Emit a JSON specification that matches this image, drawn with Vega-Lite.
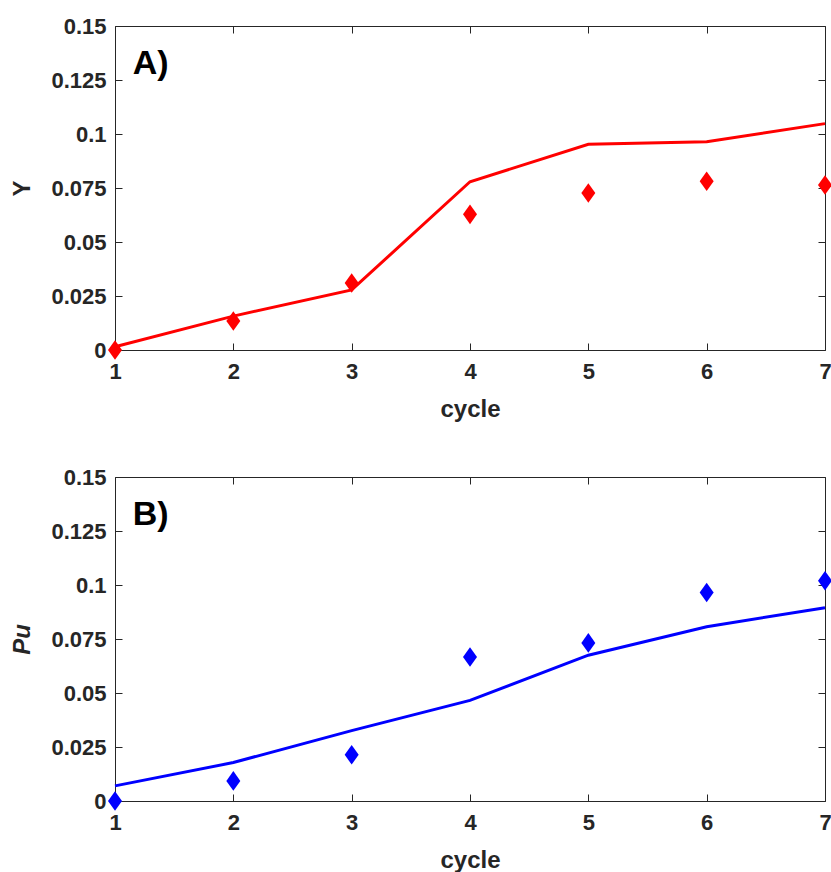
{
  "$schema": "https://vega.github.io/schema/vega-lite/v6.json",
  "padding": {"left": 10, "top": 14, "right": 0, "bottom": 0},
  "background": "white",
  "spacing": 43,
  "config": {
    "view": {"stroke": "#262626", "strokeWidth": 1},
    "font": "Liberation Sans",
    "axis": {
      "labelFont": "Liberation Sans",
      "labelFontSize": 22,
      "labelFontWeight": "bold",
      "labelColor": "#262626",
      "labelFlush": false,
      "labelOverlap": false,
      "titleFont": "Liberation Sans",
      "titleFontSize": 24,
      "titleFontWeight": "bold",
      "titleColor": "#262626",
      "tickColor": "#262626",
      "tickSize": -7,
      "domain": false,
      "grid": false
    }
  },
  "datasets": {
    "sim_A": [
      {"cycle": 1, "value": 0.0015},
      {"cycle": 2, "value": 0.0157},
      {"cycle": 3, "value": 0.0278},
      {"cycle": 4, "value": 0.0779},
      {"cycle": 5, "value": 0.0952},
      {"cycle": 6, "value": 0.0964},
      {"cycle": 7, "value": 0.1048}
    ],
    "obs_A": [
      {"cycle": 1, "value": 0.0},
      {"cycle": 2, "value": 0.0134},
      {"cycle": 3, "value": 0.031},
      {"cycle": 4, "value": 0.0628},
      {"cycle": 5, "value": 0.0727},
      {"cycle": 6, "value": 0.0781},
      {"cycle": 7, "value": 0.0764}
    ],
    "sim_B": [
      {"cycle": 1, "value": 0.007},
      {"cycle": 2, "value": 0.0178},
      {"cycle": 3, "value": 0.0326},
      {"cycle": 4, "value": 0.0466},
      {"cycle": 5, "value": 0.0675},
      {"cycle": 6, "value": 0.0807},
      {"cycle": 7, "value": 0.0895}
    ],
    "obs_B": [
      {"cycle": 1, "value": 0.0},
      {"cycle": 2, "value": 0.0093},
      {"cycle": 3, "value": 0.0214},
      {"cycle": 4, "value": 0.0667},
      {"cycle": 5, "value": 0.0732},
      {"cycle": 6, "value": 0.0965},
      {"cycle": 7, "value": 0.102}
    ],
    "label_A": [{"cycle": 1.15, "value": 0.1324, "text": "A)"}],
    "label_B": [{"cycle": 1.15, "value": 0.1324, "text": "B)"}]
  },
  "vconcat": [
    {
      "width": 710,
      "height": 324,
      "resolve": {"axis": {"x": "independent", "y": "independent"}},
      "layer": [
        {
          "data": {"name": "sim_A"},
          "mark": {"type": "line", "color": "#FF0000", "strokeWidth": 3, "clip": false},
          "encoding": {
            "x": {"field": "cycle", "type": "quantitative", "scale": {"domain": [1, 7], "nice": false, "zero": false},
                  "axis": {"orient": "bottom", "values": [1,2,3,4,5,6,7], "title": "cycle", "labelPadding": 18, "titlePadding": 15}},
            "y": {"field": "value", "type": "quantitative", "scale": {"domain": [0, 0.15], "nice": false},
                  "axis": {"orient": "left", "values": [0,0.025,0.05,0.075,0.1,0.125,0.15], "labelExpr": "'' + datum.value", "title": "Y", "labelPadding": 16, "titlePadding": 16}}
          }
        },
        {
          "data": {"name": "obs_A"},
          "mark": {"type": "point", "shape": "M0,-1.4L1,0L0,1.4L-1,0Z", "filled": true, "color": "#FF0000", "size": 196, "opacity": 1, "clip": false},
          "encoding": {
            "x": {"field": "cycle", "type": "quantitative",
                  "axis": {"orient": "top", "values": [1,2,3,4,5,6,7], "labels": false, "title": null}},
            "y": {"field": "value", "type": "quantitative",
                  "axis": {"orient": "right", "values": [0,0.025,0.05,0.075,0.1,0.125,0.15], "labels": false, "title": null}}
          }
        },
        {
          "data": {"name": "label_A"},
          "mark": {"type": "text", "align": "left", "baseline": "middle", "fontSize": 34, "fontWeight": "bold", "font": "Liberation Sans", "color": "#000000"},
          "encoding": {
            "x": {"field": "cycle", "type": "quantitative", "axis": null},
            "y": {"field": "value", "type": "quantitative", "axis": null},
            "text": {"field": "text"}
          }
        }
      ]
    },
    {
      "width": 710,
      "height": 324,
      "resolve": {"axis": {"x": "independent", "y": "independent"}},
      "layer": [
        {
          "data": {"name": "sim_B"},
          "mark": {"type": "line", "color": "#0000FF", "strokeWidth": 3, "clip": false},
          "encoding": {
            "x": {"field": "cycle", "type": "quantitative", "scale": {"domain": [1, 7], "nice": false, "zero": false},
                  "axis": {"orient": "bottom", "values": [1,2,3,4,5,6,7], "title": "cycle", "labelPadding": 18, "titlePadding": 15}},
            "y": {"field": "value", "type": "quantitative", "scale": {"domain": [0, 0.15], "nice": false},
                  "axis": {"orient": "left", "values": [0,0.025,0.05,0.075,0.1,0.125,0.15], "labelExpr": "'' + datum.value", "title": "Pu", "titleFontStyle": "italic", "labelPadding": 16, "titlePadding": 16}}
          }
        },
        {
          "data": {"name": "obs_B"},
          "mark": {"type": "point", "shape": "M0,-1.4L1,0L0,1.4L-1,0Z", "filled": true, "color": "#0000FF", "size": 196, "opacity": 1, "clip": false},
          "encoding": {
            "x": {"field": "cycle", "type": "quantitative",
                  "axis": {"orient": "top", "values": [1,2,3,4,5,6,7], "labels": false, "title": null}},
            "y": {"field": "value", "type": "quantitative",
                  "axis": {"orient": "right", "values": [0,0.025,0.05,0.075,0.1,0.125,0.15], "labels": false, "title": null}}
          }
        },
        {
          "data": {"name": "label_B"},
          "mark": {"type": "text", "align": "left", "baseline": "middle", "fontSize": 34, "fontWeight": "bold", "font": "Liberation Sans", "color": "#000000"},
          "encoding": {
            "x": {"field": "cycle", "type": "quantitative", "axis": null},
            "y": {"field": "value", "type": "quantitative", "axis": null},
            "text": {"field": "text"}
          }
        }
      ]
    }
  ]
}
